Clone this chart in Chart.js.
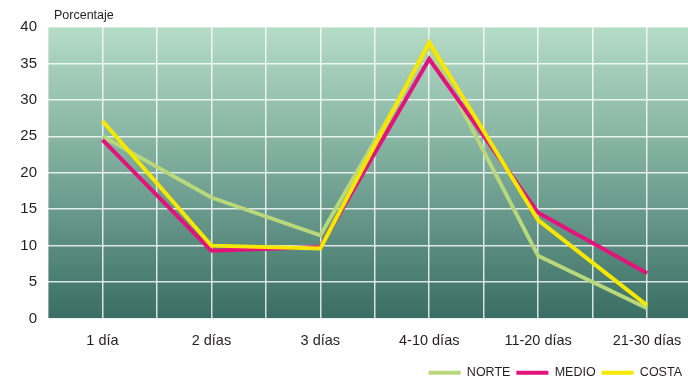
<!DOCTYPE html>
<html>
<head>
<meta charset="utf-8">
<script src="https://cdn.jsdelivr.net/npm/chart.js@4/dist/chart.umd.min.js"></script>
<style>
  html, body { margin: 0; padding: 0; background: #fff; overflow: hidden; }
  #wrap { width: 688px; height: 380px; }
</style>
</head>
<body>
<div id="wrap"><canvas id="c" width="688" height="380"></canvas></div>
<script>
// Duración de la estancia (categorías del eje X)
const categories = ['1 día', '2 días', '3 días', '4-10 días', '11-20 días', '21-30 días'];

// Porcentaje por zona
const norte = [25.0, 16.6, 11.4, 37.3, 8.6, 1.4];
const medio = [24.5, 9.3, 9.8, 35.6, 14.5, 6.2];
const costa = [27.1, 10.0, 9.6, 37.9, 13.5, 1.8];

const yMin = 0, yMax = 40, yStep = 5;

const FONT = '"Liberation Sans", Arial, Helvetica, sans-serif';
const TEXT = '#231f20';

const toPoints = arr => arr.map((v, i) => ({ x: i, y: v }));

// Fondo degradado del área de trazado
const gradientBg = {
  id: 'gradientBg',
  beforeDraw(chart) {
    const { ctx, chartArea: a } = chart;
    const g = ctx.createLinearGradient(0, a.top, 0, a.bottom);
    g.addColorStop(0, '#b5dcc7');
    g.addColorStop(0.5, '#79a898');
    g.addColorStop(1, '#3a6e64');
    ctx.save();
    ctx.fillStyle = g;
    ctx.fillRect(a.left, a.top, a.right - a.left, a.bottom - a.top);
    ctx.restore();
  }
};

// Rótulo de unidades sobre el eje Y
const unitLabel = {
  id: 'unitLabel',
  afterDraw(chart) {
    const { ctx, chartArea: a } = chart;
    ctx.save();
    ctx.font = '12.5px ' + FONT;
    ctx.fillStyle = TEXT;
    ctx.textBaseline = 'alphabetic';
    ctx.fillText('Porcentaje', a.left + 6, 19);
    ctx.restore();
  }
};

const series = [
  { label: 'NORTE', data: norte, color: '#b8d87b', order: 2 },
  { label: 'MEDIO', data: medio, color: '#e2147b', order: 1 },
  { label: 'COSTA', data: costa, color: '#f6e800', order: 0 }
];

new Chart(document.getElementById('c'), {
  type: 'line',
  data: {
    datasets: series.map(s => ({
      label: s.label,
      data: toPoints(s.data),
      borderColor: s.color,
      backgroundColor: s.color,
      borderWidth: 4,
      pointRadius: 0,
      pointHoverRadius: 0,
      tension: 0,
      borderJoinStyle: 'miter',
      borderCapStyle: 'butt',
      fill: false,
      order: s.order
    }))
  },
  options: {
    responsive: false,
    animation: false,
    layout: { padding: { top: 27, left: 0, right: 0, bottom: -9 } },
    plugins: {
      tooltip: { enabled: false },
      legend: {
        position: 'bottom',
        align: 'end',
        labels: {
          boxWidth: 32,
          boxHeight: 4,
          padding: 6,
          color: TEXT,
          font: { family: FONT, size: 12.5 },
          sort: (a, b) => a.datasetIndex - b.datasetIndex,
          generateLabels(chart) {
            const items = Chart.defaults.plugins.legend.labels.generateLabels(chart);
            items.forEach(it => { it.lineWidth = 0; it.strokeStyle = 'rgba(0,0,0,0)'; });
            return items;
          }
        }
      }
    },
    scales: {
      x: {
        type: 'linear',
        min: -0.5,
        max: 5.376,
        border: { display: false },
        grid: {
          color: 'rgba(255,255,255,0.8)',
          lineWidth: 1.5,
          drawTicks: false
        },
        ticks: {
          stepSize: 0.5,
          includeBounds: false,
          autoSkip: false,
          maxRotation: 0,
          padding: 14,
          color: TEXT,
          font: { family: FONT, size: 14.5 },
          callback: v => (Number.isInteger(v) && categories[v] !== undefined) ? categories[v] : ''
        },
        afterFit(scale) {
          scale.height = 42;
          scale.paddingLeft = 0;
          scale.paddingRight = 0;
        }
      },
      y: {
        min: yMin,
        max: yMax,
        border: { display: false },
        grid: {
          color: 'rgba(255,255,255,0.8)',
          lineWidth: 1.5,
          drawTicks: false
        },
        ticks: {
          stepSize: yStep,
          padding: 11,
          color: TEXT,
          font: { family: FONT, size: 15 }
        },
        afterFit(scale) { scale.width = 48; }
      }
    }
  },
  plugins: [gradientBg, unitLabel]
});
</script>
</body>
</html>
